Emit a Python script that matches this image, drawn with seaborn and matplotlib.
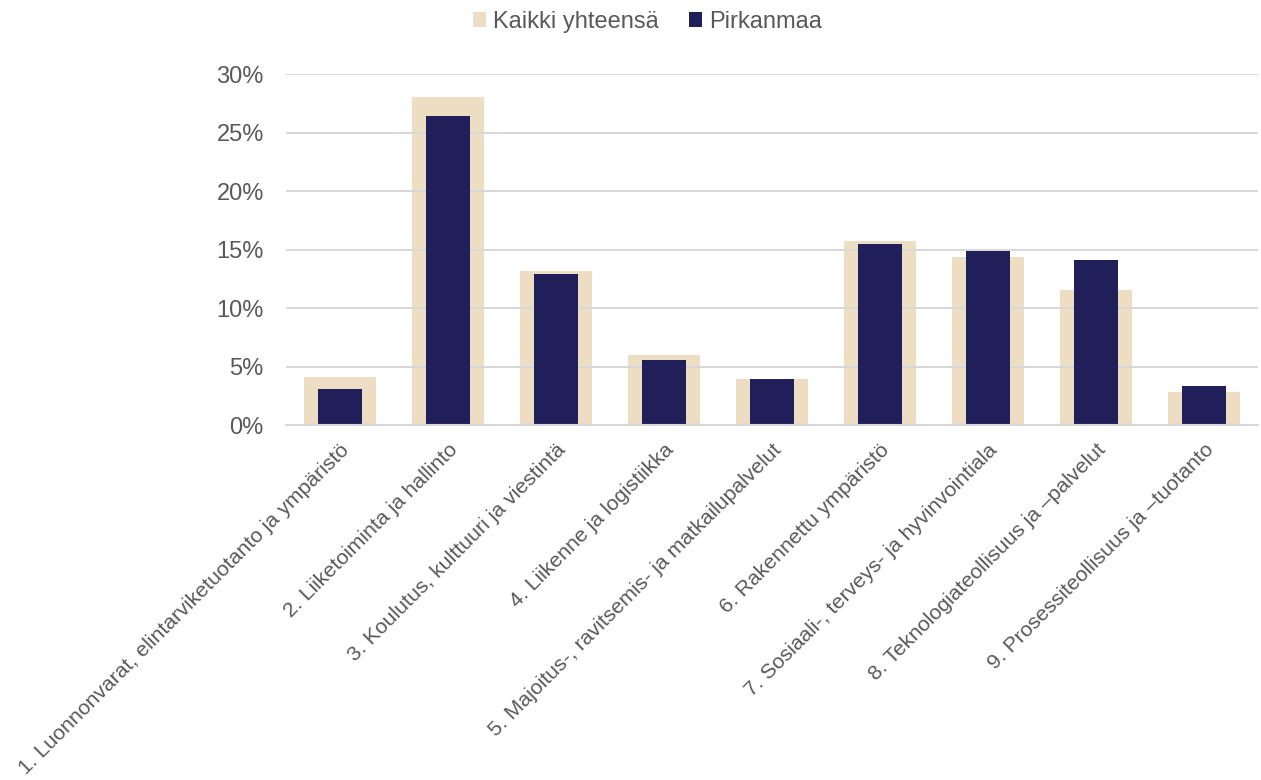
import matplotlib
matplotlib.use("Agg")
import matplotlib.pyplot as plt
import matplotlib.ticker as mticker
import numpy as np
import pandas as pd
import seaborn as sns

categories = [
    "1. Luonnonvarat, elintarviketuotanto ja ympäristö",
    "2. Liiketoiminta ja hallinto",
    "3. Koulutus, kulttuuri ja viestintä",
    "4. Liikenne ja logistiikka",
    "5. Majoitus-, ravitsemis- ja matkailupalvelut",
    "6. Rakennettu ympäristö",
    "7. Sosiaali-, terveys- ja hyvinvointiala",
    "8. Teknologiateollisuus ja \u2013palvelut",
    "9. Prosessiteollisuus ja \u2013tuotanto",
]
kaikki = [0.041, 0.280, 0.132, 0.060, 0.039, 0.157, 0.144, 0.115, 0.028]
pirkanmaa = [0.031, 0.264, 0.129, 0.056, 0.039, 0.155, 0.149, 0.141, 0.033]

df = pd.DataFrame({"ala": categories, "Kaikki yhteensä": kaikki, "Pirkanmaa": pirkanmaa})

BEIGE = "#EDDEC3"
NAVY = "#211F5A"
GREY = "#595959"

sns.set_style("white")
plt.rcParams["font.family"] = ["Liberation Sans", "DejaVu Sans"]

fig = plt.figure(figsize=(12.61, 7.8), dpi=100)
ax = fig.add_axes([0.2268, 0.4551, 0.7708, 0.4500])

sns.barplot(data=df, x="ala", y="Kaikki yhteensä", color=BEIGE, width=0.667,
            saturation=1, ax=ax, linewidth=0, label="Kaikki yhteensä")
sns.barplot(data=df, x="ala", y="Pirkanmaa", color=NAVY, width=0.40,
            saturation=1, ax=ax, linewidth=0, label="Pirkanmaa")
# beige behind grid, navy above it
for i, p in enumerate(ax.patches):
    p.set_zorder(1 if i < len(categories) else 3)
    p.set_edgecolor("none")

ax.set_xlim(-0.5, len(categories) - 0.5)
ax.set_ylim(0, 0.30)
ax.yaxis.set_major_locator(mticker.MultipleLocator(0.05))
ax.yaxis.set_major_formatter(mticker.PercentFormatter(1.0, decimals=0))
ax.grid(axis="y", color="#D9D9D9", lw=1.5, zorder=2)
ax.set_axisbelow(False)
for s in ["top", "right", "left"]:
    ax.spines[s].set_visible(False)
ax.spines["bottom"].set_color("#D9D9D9")
ax.spines["bottom"].set_linewidth(1.5)
ax.spines["bottom"].set_zorder(4)
ax.tick_params(axis="both", length=0, colors=GREY)
ax.tick_params(axis="y", pad=16, labelsize=17)
ax.set_xlabel("")
ax.set_ylabel("")
ax.set_xticks(range(len(categories)))
ax.set_xticklabels(categories, rotation=45, ha="right", rotation_mode="anchor",
                   fontsize=15.3, color=GREY)
ax.tick_params(axis="x", pad=11)

handles, labels = ax.get_legend_handles_labels()
fig.legend(handles, labels, loc="center", bbox_to_anchor=(0.5135, 0.972), ncol=2,
           frameon=False, fontsize=17, labelcolor=GREY, handlelength=0.55,
           handleheight=0.55, handletextpad=0.3, columnspacing=1.3)
if ax.get_legend() is not None:
    ax.get_legend().remove()

fig.savefig("out.png", dpi=100)
